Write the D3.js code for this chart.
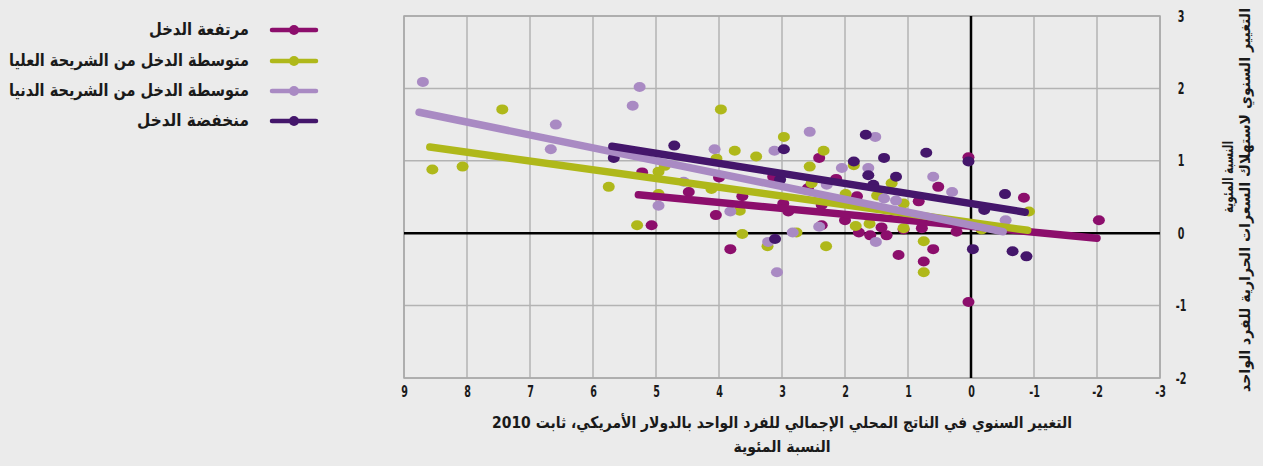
<!DOCTYPE html>
<html lang="ar">
<head>
  <meta charset="UTF-8">
  <title>GDP vs calorie consumption</title>
  <script src="https://d3js.org/d3.v7.min.js"></script>
  <style>
    body { margin: 0; background: #ebebeb; }
    svg { display: block; }
    .ar { font-family: "DejaVu Sans", sans-serif; font-weight: bold; fill: #1a1a1a; }
    .tick text { font-family: "DejaVu Sans", sans-serif; font-weight: bold; font-size: 16px; fill: #1a1a1a; }
  </style>
</head>
<body>
  <svg id="chart" width="1263" height="466"></svg>

  <script>
    // series names (legend, top to bottom) and colours
    const seriesNames = ["مرتفعة الدخل", "متوسطة الدخل من الشريحة العليا", "متوسطة الدخل من الشريحة الدنيا", "منخفضة الدخل"];
    const colors = ["#8c0e6c", "#afb81a", "#a98ac3", "#44166b"];

    // [GDP change %, calorie change %]
    const highIncome = [[5.22,0.84],[5.07,0.11],[4.05,0.25],[3.63,0.51],[4.0,0.77],[4.48,0.57],[3.82,-0.22],[3.14,0.78],
      [2.98,0.41],[2.90,0.30],[2.41,1.04],[2.14,0.75],[2.59,0.62],[1.81,0.51],[0.83,0.44],[0.52,0.64],[2.37,0.39],
      [2.0,0.18],[1.42,0.08],[1.78,0.01],[1.60,-0.03],[1.34,-0.03],[2.37,0.11],[1.07,0.05],[0.78,0.07],[0.60,-0.22],
      [1.15,-0.30],[0.75,-0.39],[0.04,1.05],[-0.84,0.49],[0.23,0.02],[-2.03,0.18],[0.04,-0.95]];
    const upperMiddle = [[8.55,0.88],[8.07,0.92],[7.44,1.71],[5.75,0.64],[5.30,0.11],[4.96,0.85],[4.86,0.93],[4.96,0.54],
      [3.97,1.71],[3.75,1.14],[3.41,1.06],[2.97,1.33],[4.04,1.03],[4.12,0.61],[3.67,0.31],[3.63,-0.01],[3.23,-0.18],
      [2.34,1.14],[2.56,0.92],[1.86,0.94],[1.26,0.69],[2.53,0.69],[1.99,0.54],[1.49,0.52],[1.07,0.41],[1.83,0.10],
      [1.61,0.13],[2.77,0.01],[2.30,-0.18],[1.07,0.07],[0.75,-0.11],[0.75,-0.54],[-0.92,0.30],[-0.17,0.05]];
    const lowerMiddle = [[8.70,2.09],[6.59,1.50],[6.67,1.16],[5.26,2.02],[5.37,1.76],[4.07,1.16],[3.12,1.14],[4.96,0.38],
      [3.82,0.30],[4.56,0.71],[3.22,-0.12],[2.83,0.01],[3.08,-0.54],[2.56,1.40],[1.52,1.33],[2.05,0.90],[1.63,0.90],
      [0.60,0.78],[2.29,0.67],[1.38,0.48],[1.19,0.45],[1.51,-0.12],[2.41,0.09],[0.30,0.57],[-0.55,0.18]];
    const lowIncome = [[5.67,1.04],[4.71,1.21],[2.97,1.16],[3.11,-0.08],[3.03,0.74],[1.67,1.36],[1.38,1.04],[0.71,1.11],
      [1.86,0.99],[1.63,0.80],[1.19,0.78],[1.55,0.67],[0.04,0.99],[-0.54,0.54],[-0.21,0.32],[-0.03,-0.22],
      [-0.66,-0.25],[-0.88,-0.32]];

    // trend line end points [[x1,y1],[x2,y2]]
    const trendHigh = [[5.28,0.53],[-2.0,-0.07]];
    const trendUpper = [[8.59,1.19],[-0.9,0.04]];
    const trendLower = [[8.76,1.67],[-0.51,0.02]];
    const trendLow = [[5.70,1.20],[-0.86,0.29]];

    const xTicks = [9, 8, 7, 6, 5, 4, 3, 2, 1, 0, -1, -2, -3];
    const yTicks = [3, 2, 1, 0, -1, -2];

    const xTitle = ["التغيير السنوي في الناتج المحلي الإجمالي للفرد الواحد بالدولار الأمريكي، ثابت 2010", "النسبة المئوية"];
    const yTitle = ["التغيير السنوي لاستهلاك السعرات الحرارية للفرد الواحد", "النسبة المئوية"];

    const points = [highIncome, upperMiddle, lowerMiddle, lowIncome];
    const trends = [trendHigh, trendUpper, trendLower, trendLow];

    const svg = d3.select("#chart");

    const x = d3.scaleLinear().domain([9, -3]).range([404, 1160]);
    const y = d3.scaleLinear().domain([-2, 3]).range([378, 16]);

    // grid
    const grid = svg.append("g").attr("stroke", "#b3b3b3").attr("stroke-width", 1.5);
    grid.selectAll(".vg").data(xTicks.filter(d => d !== 0)).enter().append("line")
      .attr("x1", d => x(d)).attr("x2", d => x(d)).attr("y1", y(3)).attr("y2", y(-2));
    grid.selectAll(".hg").data(yTicks.filter(d => d !== 0)).enter().append("line")
      .attr("x1", x(9)).attr("x2", x(-3)).attr("y1", d => y(d)).attr("y2", d => y(d));
    svg.append("rect")
      .attr("x", x(9)).attr("y", y(3))
      .attr("width", x(-3) - x(9)).attr("height", y(-2) - y(3))
      .attr("fill", "none").attr("stroke", "#a8a8a8").attr("stroke-width", 1.5);

    // zero lines
    svg.append("line").attr("x1", x(9)).attr("x2", x(-3)).attr("y1", y(0)).attr("y2", y(0))
      .attr("stroke", "#000").attr("stroke-width", 2.5);
    svg.append("line").attr("x1", x(0)).attr("x2", x(0)).attr("y1", y(3)).attr("y2", y(-2))
      .attr("stroke", "#000").attr("stroke-width", 2.5);

    // dots
    points.forEach((pts, i) => {
      svg.append("g").attr("fill", colors[i])
        .selectAll("ellipse").data(pts).enter().append("ellipse")
        .attr("cx", d => x(d[0])).attr("cy", d => y(d[1]))
        .attr("rx", 6).attr("ry", 5);
    });

    // trend lines
    const line = d3.line().x(d => x(d[0])).y(d => y(d[1]));
    trends.forEach((t, i) => {
      svg.append("path").attr("d", line(t))
        .attr("fill", "none").attr("stroke", colors[i])
        .attr("stroke-width", 7.5).attr("stroke-linecap", "round");
    });

    // axes (narrow digits: squeeze the labels horizontally)
    const fmt = d => String(d);
    const xAxis = svg.append("g").attr("transform", `translate(0,${y(-2)})`)
      .call(d3.axisBottom(x).tickValues(xTicks).tickSize(0).tickPadding(8).tickFormat(fmt));
    xAxis.select(".domain").remove();
    xAxis.selectAll("text").attr("transform", "scale(0.6,1)");

    const yAxis = svg.append("g").attr("transform", `translate(${x(-3)},0)`)
      .call(d3.axisRight(y).tickValues(yTicks).tickSize(0).tickFormat(fmt));
    yAxis.select(".domain").remove();
    yAxis.selectAll("text").attr("x", 0).attr("text-anchor", "middle")
      .attr("transform", "translate(21,0) scale(0.6,1)");

    // axis titles
    svg.append("text").attr("class", "ar").attr("x", 782).attr("y", 428)
      .attr("text-anchor", "middle").style("font-size", "16px")
      .attr("textLength", 580).attr("lengthAdjust", "spacingAndGlyphs").text(xTitle[0]);
    svg.append("text").attr("class", "ar").attr("x", 782).attr("y", 452)
      .attr("text-anchor", "middle").style("font-size", "16px")
      .attr("textLength", 97).attr("lengthAdjust", "spacingAndGlyphs").text(xTitle[1]);

    svg.append("text").attr("class", "ar")
      .attr("transform", "translate(1250,200) rotate(-90)")
      .attr("text-anchor", "middle").style("font-size", "15px")
      .attr("textLength", 384).attr("lengthAdjust", "spacingAndGlyphs").text(yTitle[0]);
    svg.append("text").attr("class", "ar")
      .attr("transform", "translate(1233,177) rotate(-90)")
      .attr("text-anchor", "middle").style("font-size", "15px")
      .attr("textLength", 72).attr("lengthAdjust", "spacingAndGlyphs").text(yTitle[1]);

    // legend
    const legend = svg.append("g");
    const rowY = [30, 61, 91, 121];
    const legendWidth = [100, 240, 240, 112];
    seriesNames.forEach((name, i) => {
      const g = legend.append("g").attr("transform", `translate(0,${rowY[i]})`);
      g.append("line").attr("x1", 272).attr("x2", 316).attr("y1", 0).attr("y2", 0)
        .attr("stroke", colors[i]).attr("stroke-width", 4.5).attr("stroke-linecap", "round");
      g.append("circle").attr("cx", 294).attr("cy", 0).attr("r", 5).attr("fill", colors[i]);
      g.append("text").attr("class", "ar").attr("x", 249).attr("y", 5)
        .attr("text-anchor", "end").style("font-size", "17px")
        .attr("textLength", legendWidth[i]).attr("lengthAdjust", "spacingAndGlyphs").text(name);
    });
  </script>
</body>
</html>
